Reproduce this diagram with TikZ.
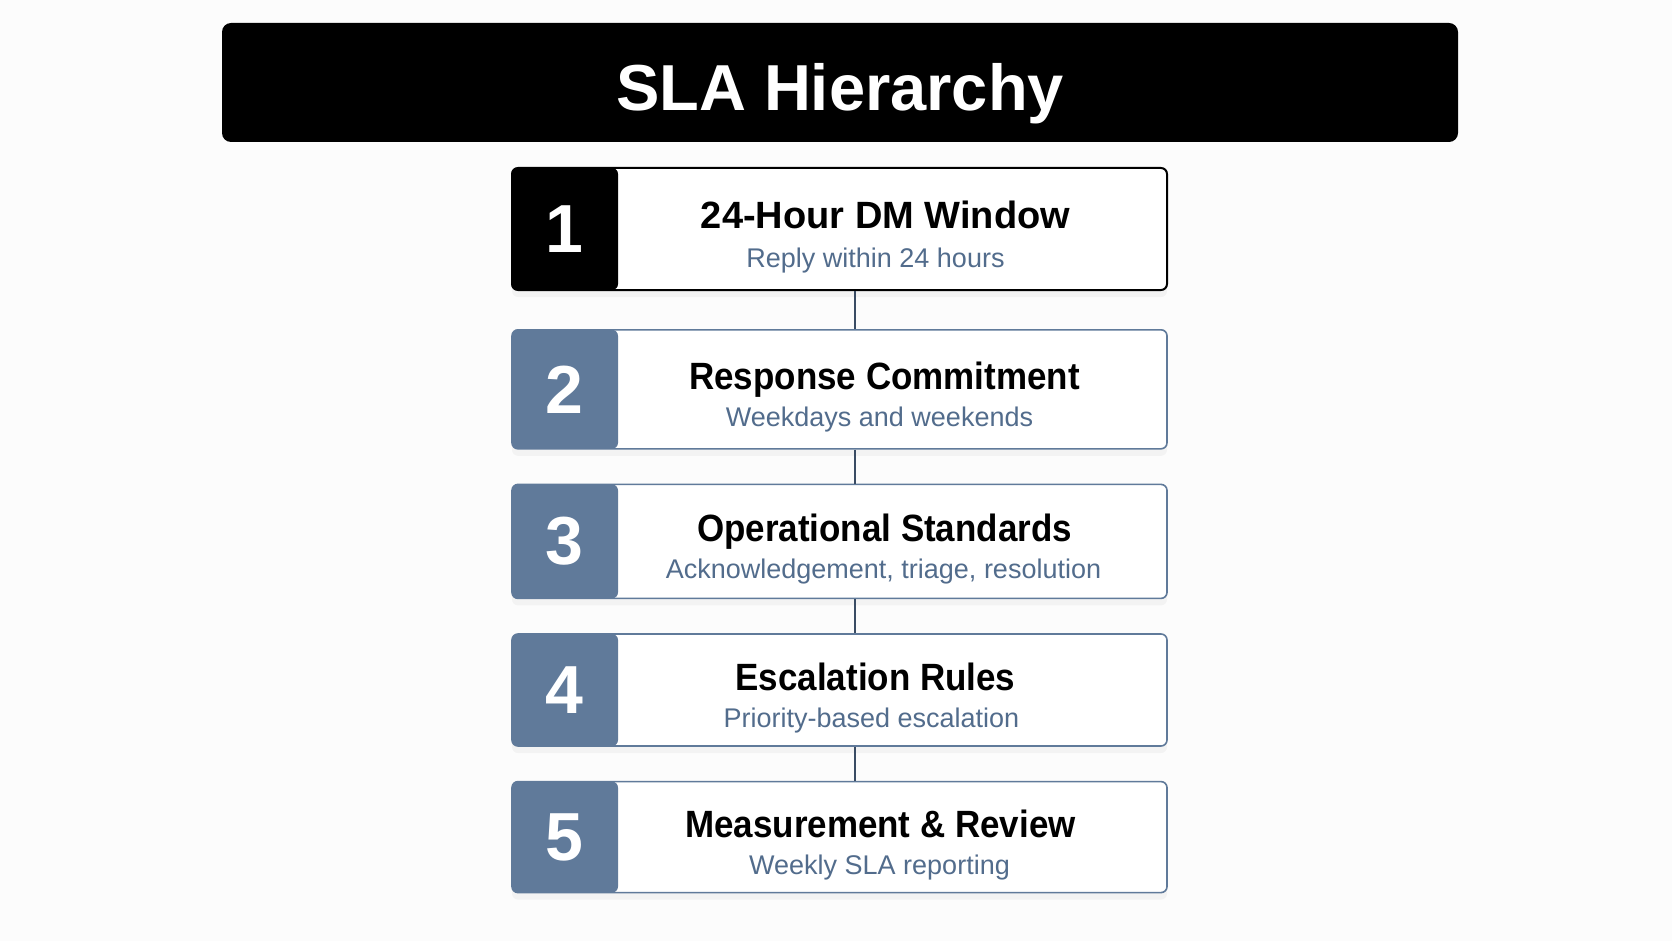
\documentclass[tikz,border=0pt]{standalone}
\usepackage{fontspec}
\setmainfont{Liberation Sans}
\newfontfamily\headfont{Liberation Sans}[FakeStretch=0.92]
\usetikzlibrary{positioning, shadows}

\definecolor{slate}{RGB}{96,122,154}
\definecolor{slatetext}{RGB}{82,108,140}
\definecolor{linkcol}{RGB}{58,76,100}

\tikzset{
	card/.style={draw=#1, line width=1.6pt, fill=white, rounded corners=6pt,
		minimum width=655pt, inner sep=0pt,
		drop shadow={opacity=0.07, shadow xshift=0pt, shadow yshift=-7pt},
		path picture={\fill[#1] (path picture bounding box.north west) rectangle ([xshift=106pt]path picture bounding box.south west);}},
	num/.style={text=white, inner sep=0pt, font=\bfseries\fontsize{68}{68}\selectfont},
	head/.style={anchor=base, inner sep=0pt, font=\headfont\bfseries\fontsize{38}{38}\selectfont},
	sub/.style={anchor=base, inner sep=0pt, text=slatetext, font=\fontsize{27}{27}\selectfont},
	link/.style={draw=linkcol, line width=1.6pt},
}

\begin{document}
\begin{tikzpicture}[x=1pt, y=-1pt]
	\useasboundingbox[fill=black!1] (0,0) rectangle (1672,941);

	% title bar
	\node[fill=black, rounded corners=9pt, minimum width=1236pt, minimum height=119pt] (bar) at (840,82.5) {};
	\node[anchor=base, text=white, font=\bfseries\fontsize{65}{65}\selectfont] (title) at ([yshift=-28.5pt]bar.center) {SLA Hierarchy};

	% cards
	\node[card=black, line width=2pt, minimum height=122pt] (c1) at (839.5,229) {};
	\node[card=slate, minimum height=119pt, below=38pt of c1] (c2) {};
	\node[card=slate, minimum height=114pt, below=34pt of c2] (c3) {};
	\node[card=slate, minimum height=112pt, below=34pt of c3] (c4) {};
	\node[card=slate, minimum height=111pt, below=34pt of c4] (c5) {};

	\node[num] (n1) at ([xshift=53pt]c1.west) {1};
	\node[num] (n2) at ([xshift=53pt]c2.west) {2};
	\node[num] (n3) at ([xshift=53pt]c3.west) {3};
	\node[num] (n4) at ([xshift=53pt]c4.west) {4};
	\node[num] (n5) at ([xshift=53pt]c5.west) {5};

	\node[head, font=\bfseries\fontsize{38}{38}\selectfont] (h1) at ([xshift=46pt]c1.center) {24-Hour DM Window};
	\node[sub] (s1) at ([xshift=36pt, yshift=-38pt]c1.center) {Reply within 24 hours};
	\node[head] (h2) at ([xshift=45pt]c2.center) {Response Commitment};
	\node[sub] (s2) at ([xshift=40pt, yshift=-37pt]c2.center) {Weekdays and weekends};
	\node[head] (h3) at ([xshift=45pt]c3.center) {Operational Standards};
	\node[sub] (s3) at ([xshift=44pt, yshift=-37pt]c3.center) {Acknowledgement, triage, resolution};
	\node[head] (h4) at ([xshift=36pt]c4.center) {Escalation Rules};
	\node[sub] (s4) at ([xshift=32pt, yshift=-37pt]c4.center) {Priority-based escalation};
	\node[head] (h5) at ([xshift=41pt]c5.center) {Measurement \& Review};
	\node[sub] (s5) at ([xshift=40pt, yshift=-37pt]c5.center) {Weekly SLA reporting};

	% links
	\draw[link] ([xshift=15.5pt]c1.south) -- ([xshift=15.5pt]c2.north);
	\draw[link] ([xshift=15.5pt]c2.south) -- ([xshift=15.5pt]c3.north);
	\draw[link] ([xshift=15.5pt]c3.south) -- ([xshift=15.5pt]c4.north);
	\draw[link] ([xshift=15.5pt]c4.south) -- ([xshift=15.5pt]c5.north);

\end{tikzpicture}
\end{document}
